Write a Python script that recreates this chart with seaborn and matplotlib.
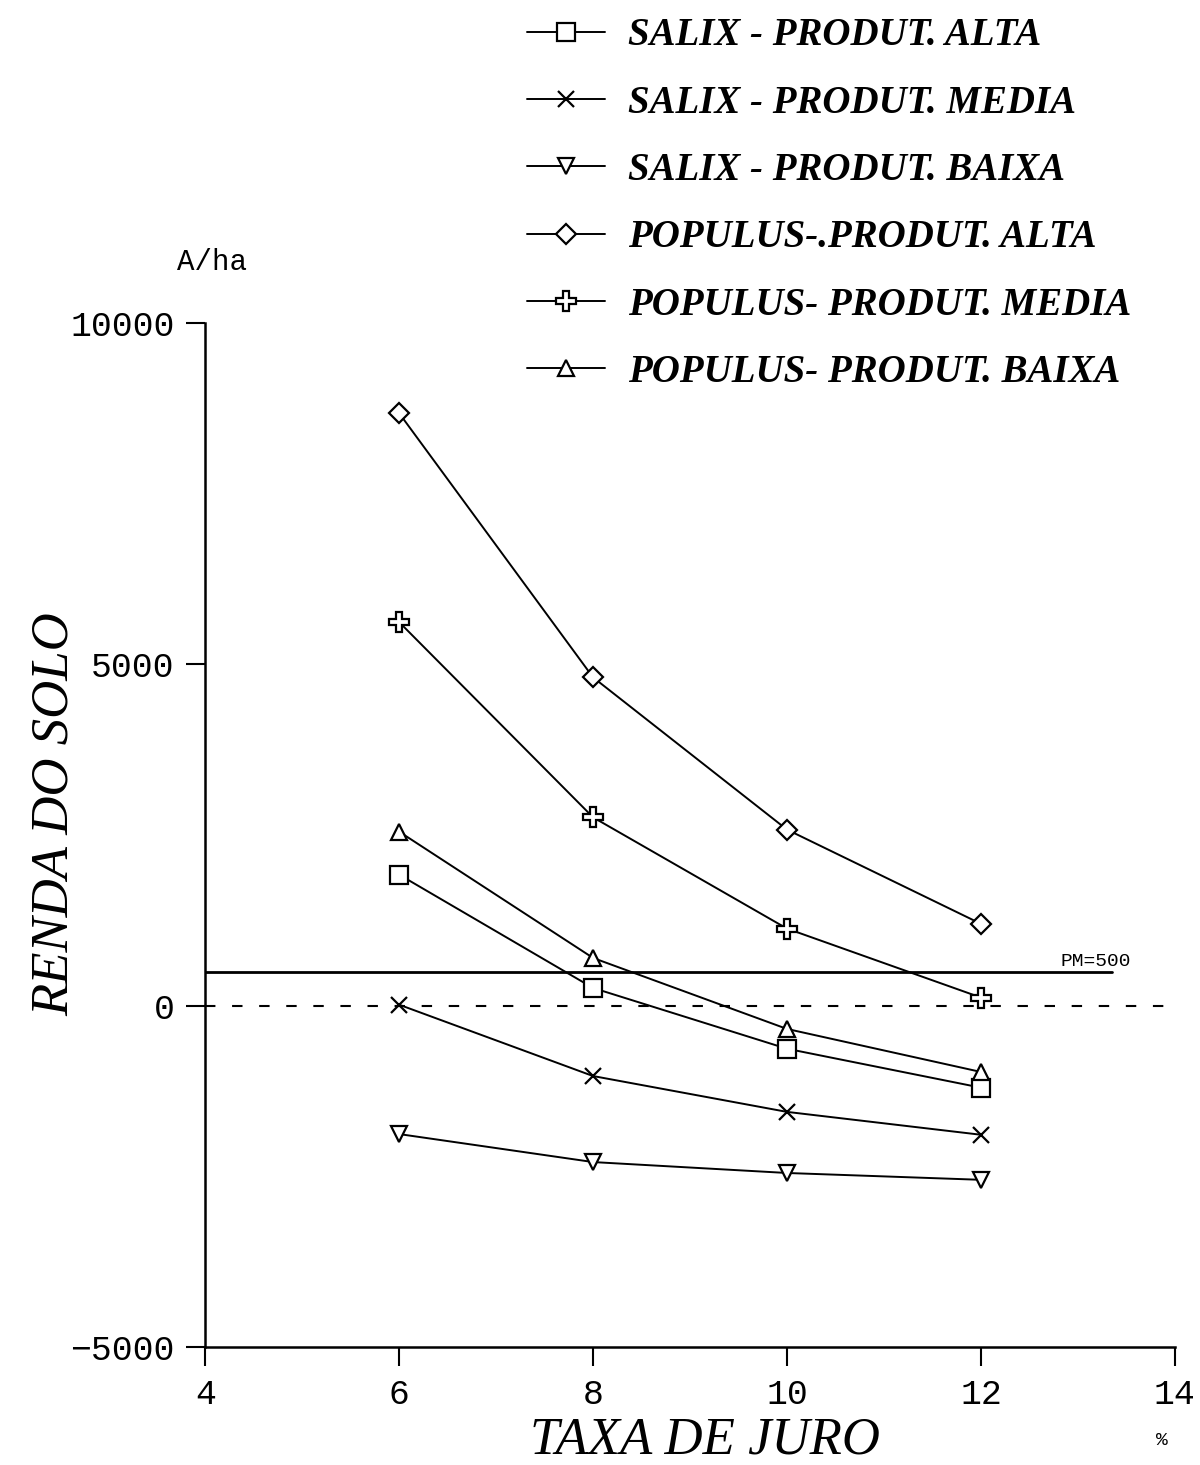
import matplotlib
matplotlib.use("Agg")
import matplotlib.pyplot as plt
import seaborn as sns
import pandas as pd
from matplotlib.lines import Line2D

# ---- data ----
taxa = [6, 8, 10, 12]
series_names = [
    "SALIX - PRODUT. ALTA",
    "SALIX - PRODUT. MEDIA",
    "SALIX - PRODUT. BAIXA",
    "POPULUS-.PRODUT. ALTA",
    "POPULUS- PRODUT. MEDIA",
    "POPULUS- PRODUT. BAIXA",
]
salix_alta = [1920, 260, -630, -1200]
salix_media = [15, -1030, -1555, -1890]
salix_baixa = [-1880, -2290, -2450, -2550]
populus_alta = [8680, 4810, 2580, 1200]
populus_media = [5620, 2760, 1130, 120]
populus_baixa = [2550, 700, -340, -970]
pm_value = 500
x_ticks = [4, 6, 8, 10, 12, 14]
y_ticks = [-5000, 0, 5000, 10000]

values = [salix_alta, salix_media, salix_baixa, populus_alta, populus_media, populus_baixa]
markers = ["s", "x", "v", "D", "P", "^"]
msizes = [13, 12, 12, 10, 14, 12]

rows = []
for name, vals in zip(series_names, values):
    for t, v in zip(taxa, vals):
        rows.append({"taxa": t, "renda": v, "serie": name})
df = pd.DataFrame(rows)

sns.set_theme(style="ticks")
plt.rcParams["font.family"] = ["Liberation Serif", "DejaVu Serif"]
plt.rcParams["text.color"] = "black"
plt.rcParams["axes.labelcolor"] = "black"
plt.rcParams["xtick.color"] = "black"
plt.rcParams["ytick.color"] = "black"

fig = plt.figure(figsize=(12, 14.65), dpi=100)
ax = fig.add_axes([0.171, 0.0805, 0.808, 0.699])

for name, m, ms in zip(series_names, markers, msizes):
    sub = df[df["serie"] == name]
    sns.lineplot(data=sub, x="taxa", y="renda", ax=ax, color="black",
                 marker=m, markersize=ms, markerfacecolor="white",
                 markeredgecolor="black", markeredgewidth=1.6,
                 linewidth=1.4, label=name, legend=False)

ax.axhline(0, xmin=0, xmax=1, color="black", linestyle=(0, (5, 8)), linewidth=1.5)
ax.plot([4, 13.35], [pm_value, pm_value], color="black", linewidth=2)
ax.text(12.82, pm_value + 20, "PM=500", fontsize=14, family="Liberation Mono",
        va="bottom", ha="left", color="black")

ax.set_xlim(4, 14)
ax.set_ylim(-5000, 10000)
ax.set_xticks(x_ticks)
ax.set_yticks(y_ticks)
ax.set_xticklabels([str(t) for t in x_ticks], family="Liberation Mono", fontsize=25)
ax.set_yticklabels(["\u22125000", "0", "5000", "10000"], family="Liberation Mono", fontsize=25)
ax.tick_params(axis="both", direction="out", length=14, width=1.5, pad=8, colors="black")
for s in ["top", "right"]:
    ax.spines[s].set_visible(False)
for s in ["left", "bottom"]:
    ax.spines[s].set_linewidth(1.8)
    ax.spines[s].set_color("black")

ax.set_xlabel("TAXA DE JURO", fontsize=38, style="italic", color="black")
ax.set_ylabel("RENDA DO SOLO", fontsize=38, style="italic", color="black")
ax.xaxis.set_label_coords(0.515, -0.068)
ax.yaxis.set_label_coords(-0.13, 0.52)

fig.text(0.177, 0.821, "A/ha", family="Liberation Mono", fontsize=21, ha="center",
         va="center", color="black")
fig.text(0.968, 0.017, "%", family="Liberation Mono", fontsize=14, ha="center",
         va="center", color="black")

handles = [Line2D([], [], color="black", linewidth=1.4, marker=m, markersize=ms,
                  markerfacecolor="white", markeredgecolor="black", markeredgewidth=1.6)
           for m, ms in zip(markers, msizes)]
leg = fig.legend(handles, series_names, loc="upper left", bbox_to_anchor=(0.41, 1.012),
                 frameon=False, handlelength=2.0, handletextpad=0.6, labelspacing=0.78,
                 prop={"family": "Liberation Serif", "style": "italic", "weight": "bold", "size": 28})
for t in leg.get_texts():
    t.set_color("black")

fig.savefig("out.png", dpi=100)
